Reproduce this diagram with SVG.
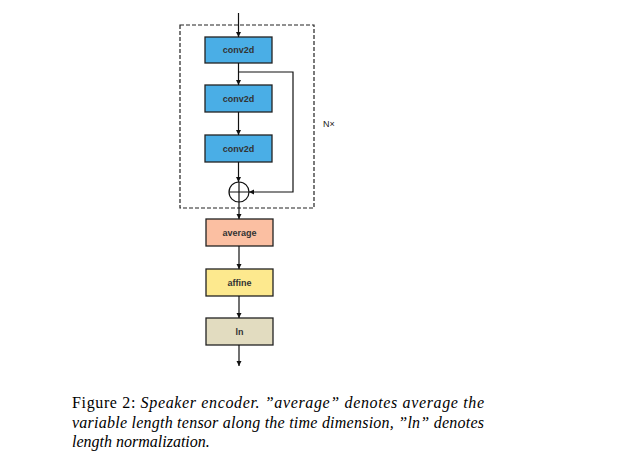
<svg xmlns="http://www.w3.org/2000/svg" width="627" height="465" viewBox="0 0 627 465">
<style>
.b{stroke:#222;stroke-width:1.3}
.t{font-family:"Liberation Sans",Arial,sans-serif;font-size:9px;font-weight:bold;fill:#333;text-anchor:middle}
.l{stroke:#111;stroke-width:1.2;fill:none}
.c{font-family:"Liberation Serif","Times New Roman",serif;font-size:16px;fill:#000}
</style>
<defs><marker id="a" markerWidth="6" markerHeight="6" refX="5" refY="3" orient="auto" markerUnits="userSpaceOnUse"><path d="M0,0.5L5,3L0,5.5z" fill="#111"/></marker></defs>
<rect x="0" y="0" width="627" height="465" fill="#fff"/>
<rect x="180" y="25" width="134" height="183" fill="none" stroke="#222" stroke-width="1.2" stroke-dasharray="4,2"/>
<text x="323" y="127" font-family="Liberation Sans,sans-serif" font-size="9" fill="#222">N×</text>
<g id="conv1"><rect class="b" x="205" y="37" width="67" height="26" fill="#4aaee6"/><text class="t" x="238.5" y="53">conv2d</text></g>
<g id="conv2"><rect class="b" x="205" y="85" width="67" height="27" fill="#4aaee6"/><text class="t" x="238.5" y="101.5">conv2d</text></g>
<g id="conv3"><rect class="b" x="205" y="135" width="67" height="27" fill="#4aaee6"/><text class="t" x="238.5" y="151.5">conv2d</text></g>
<g id="sum"><circle cx="239" cy="192" r="10" fill="#fff" stroke="#111" stroke-width="1.2"/><path d="M229,192H249M239,182V202" class="l"/></g>
<g id="average"><rect class="b" x="206" y="219" width="67" height="27" fill="#fbbfa2"/><text class="t" x="239.5" y="235.5">average</text></g>
<g id="affine"><rect class="b" x="206" y="269" width="67" height="27" fill="#fde98e"/><text class="t" x="239.5" y="285.5">affine</text></g>
<g id="ln"><rect class="b" x="206" y="318" width="67" height="27" fill="#e2dcc0"/><text class="t" x="239.5" y="334.5">ln</text></g>
<g id="connectors">
<path class="l" d="M238.5,13V37" marker-end="url(#a)"/>
<path class="l" d="M238.5,63V85" marker-end="url(#a)"/>
<path class="l" d="M238.5,112V135" marker-end="url(#a)"/>
<path class="l" d="M238.5,162V182" marker-end="url(#a)"/>
<path class="l" d="M238.5,72H293V192H249" marker-end="url(#a)"/>
<path class="l" d="M239,202V219" marker-end="url(#a)"/>
<path class="l" d="M239,246V269" marker-end="url(#a)"/>
<path class="l" d="M239,296V318" marker-end="url(#a)"/>
<path class="l" d="M239,345V366" marker-end="url(#a)"/>
</g>
<text class="c" x="72" y="408" textLength="412" lengthAdjust="spacing">Figure 2: <tspan font-style="italic">Speaker encoder.  ”average” denotes average the</tspan></text>
<text class="c" x="72" y="428" font-style="italic" textLength="412" lengthAdjust="spacing">variable length tensor along the time dimension, ”ln” denotes</text>
<text class="c" x="72" y="447" font-style="italic">length normalization.</text>
</svg>
